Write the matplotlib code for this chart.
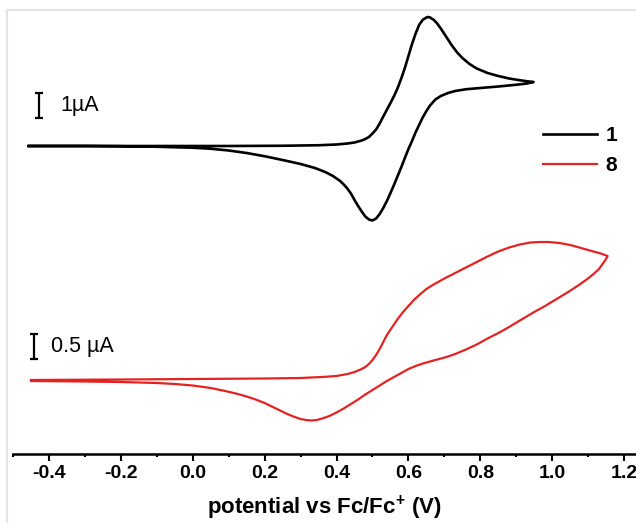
import matplotlib
matplotlib.use("Agg")
import matplotlib.pyplot as plt
import numpy as np
from matplotlib.lines import Line2D
from matplotlib.ticker import MultipleLocator

plt.rcParams['font.family'] = ['Liberation Sans', 'DejaVu Sans']
plt.rcParams['mathtext.fontset'] = 'custom'
plt.rcParams['mathtext.rm'] = 'Liberation Sans'
plt.rcParams['mathtext.bf'] = 'Liberation Sans:bold'

# compound 1 : forward (oxidation) and reverse scan, potential in V, current in uA
v1_fwd = [-0.456, -0.3, -0.1, 0.1, 0.25, 0.35, 0.40, 0.43, 0.45, 0.47, 0.48, 0.49, 0.50, 0.51,
          0.52, 0.53, 0.54, 0.55, 0.56, 0.57, 0.58, 0.59, 0.60, 0.61, 0.62, 0.63, 0.64, 0.65,
          0.655, 0.66, 0.67, 0.68, 0.69, 0.70, 0.71, 0.72, 0.735, 0.75, 0.77, 0.79, 0.82, 0.85,
          0.88, 0.91, 0.93, 0.948]
i1_fwd = [0, 0, 0, 0, 0.01, 0.03, 0.06, 0.1, 0.14, 0.22, 0.28, 0.36, 0.5, 0.66,
          0.9, 1.18, 1.45, 1.72, 2.0, 2.32, 2.7, 3.12, 3.6, 4.08, 4.5, 4.85, 5.05, 5.14,
          5.16, 5.14, 5.05, 4.9, 4.7, 4.48, 4.26, 4.04, 3.75, 3.52, 3.28, 3.1, 2.92, 2.8,
          2.7, 2.63, 2.59, 2.56]
v1_rev = [0.948, 0.93, 0.90, 0.85, 0.80, 0.76, 0.73, 0.71, 0.69, 0.675, 0.66, 0.65, 0.64, 0.63,
          0.62, 0.61, 0.60, 0.59, 0.58, 0.57, 0.56, 0.55, 0.54, 0.53, 0.52, 0.51, 0.50, 0.49,
          0.48, 0.47, 0.46, 0.45, 0.44, 0.43, 0.42, 0.41, 0.39, 0.37, 0.34, 0.30, 0.25, 0.20,
          0.15, 0.10, 0.05, 0.0, -0.1, -0.2, -0.3, -0.456]
i1_rev = [2.56, 2.5, 2.45, 2.38, 2.32, 2.27, 2.2, 2.12, 2.0, 1.86, 1.62, 1.4, 1.15, 0.85,
          0.55, 0.2, -0.12, -0.48, -0.85, -1.2, -1.55, -1.88, -2.2, -2.48, -2.72, -2.9, -2.98, -2.94,
          -2.82, -2.62, -2.4, -2.16, -1.9, -1.7, -1.54, -1.4, -1.2, -1.05, -0.88, -0.72, -0.56, -0.41,
          -0.28, -0.18, -0.11, -0.07, -0.03, -0.01, 0, 0]

# compound 8
v8_fwd = [-0.45, -0.2, 0.0, 0.2, 0.3, 0.36, 0.40, 0.43, 0.45, 0.47, 0.48, 0.49, 0.50, 0.51,
          0.52, 0.53, 0.54, 0.555, 0.57, 0.585, 0.60, 0.615, 0.63, 0.65, 0.67, 0.70, 0.73, 0.76,
          0.79, 0.82, 0.85, 0.88, 0.91, 0.94, 0.965, 0.99, 1.02, 1.05, 1.08, 1.11, 1.135, 1.154]
i8_fwd = [0, 0.01, 0.02, 0.03, 0.04, 0.06, 0.08, 0.12, 0.16, 0.22, 0.26, 0.32, 0.4, 0.5,
          0.62, 0.76, 0.9, 1.06, 1.22, 1.36, 1.48, 1.6, 1.7, 1.82, 1.91, 2.03, 2.14, 2.25,
          2.36, 2.47, 2.57, 2.65, 2.71, 2.75, 2.76, 2.76, 2.74, 2.7, 2.64, 2.58, 2.53, 2.48]
v8_rev = [1.154, 1.148, 1.14, 1.13, 1.115, 1.096, 1.07, 1.04, 1.01, 0.98, 0.945, 0.91, 0.88,
          0.853, 0.82, 0.79, 0.76, 0.73, 0.706, 0.67, 0.64, 0.62, 0.60, 0.58, 0.56, 0.54, 0.52,
          0.50, 0.48, 0.46, 0.44, 0.42, 0.40, 0.38, 0.36, 0.345, 0.33, 0.315, 0.30, 0.28, 0.26,
          0.24, 0.22, 0.20, 0.175, 0.15, 0.12, 0.09, 0.05, 0.0, -0.05, -0.1, -0.2, -0.3, -0.45]
i8_rev = [2.48, 2.4, 2.32, 2.22, 2.12, 2.01, 1.88, 1.74, 1.61, 1.48, 1.34, 1.19, 1.06,
          0.95, 0.83, 0.71, 0.61, 0.52, 0.46, 0.39, 0.33, 0.28, 0.22, 0.14, 0.06, -0.02, -0.11,
          -0.2, -0.29, -0.39, -0.48, -0.57, -0.65, -0.72, -0.77, -0.8, -0.81, -0.8, -0.78, -0.73, -0.67,
          -0.6, -0.53, -0.46, -0.39, -0.33, -0.27, -0.22, -0.16, -0.11, -0.08, -0.06, -0.04, -0.03, -0.02]

labels = ['1', '8']
colors = ['black', '#e52222']
offset1, scale1 = 12.32, 1.0   # 1 uA scale bar
offset8, scale8 = 2.96, 2.0    # 0.5 uA scale bar

fig = plt.figure(figsize=(6.36, 5.23), dpi=100)
ax = fig.add_axes([13 / 636, (523 - 454) / 523, 1 - 13 / 636, (454 - 10) / 523])

v1 = np.array(v1_fwd + v1_rev[1:])
i1 = np.array(i1_fwd + i1_rev[1:])
v8 = np.array(v8_fwd + v8_rev[1:])
i8 = np.array(i8_fwd + i8_rev[1:])
ax.plot(v1, offset1 + scale1 * i1, color=colors[0], lw=1.9, label=labels[0], solid_joinstyle='round')
ax.plot(v8, offset8 + scale8 * i8, color=colors[1], lw=1.6, label=labels[1], solid_joinstyle='round')

# scale bars
ax.errorbar([-0.428], [offset1 + 1.62], yerr=[[0.5], [0.5]], fmt='none', ecolor='black',
            elinewidth=1.6, capsize=3, capthick=1.6)
ax.text(-0.367, offset1 + 1.62, '1µA', fontsize=15.5, va='center', ha='left')
ax.errorbar([-0.442], [offset8 + 1.34], yerr=[[0.5], [0.5]], fmt='none', ecolor='black',
            elinewidth=1.6, capsize=3, capthick=1.6)
ax.text(-0.395, offset8 + 1.34, '0.5 µA', fontsize=15.5, va='center', ha='left')

ax.set_xlim(-0.5, 1.233)
ax.set_ylim(0, 17.76)
for s in ['left', 'right', 'top']:
    ax.spines[s].set_visible(False)
ax.spines['bottom'].set_linewidth(1.8)
ax.set_yticks([])
ax.xaxis.set_minor_locator(MultipleLocator(0.1))
ax.tick_params(axis='x', which='major', direction='out', length=5, width=1.5, pad=3, labelsize=14)
ax.tick_params(axis='x', which='minor', direction='out', length=2.5, width=1.5)
ax.set_xticks(np.arange(-0.4, 1.21, 0.2))
ax.set_xticklabels(['%.1f' % t for t in np.arange(-0.4, 1.21, 0.2)], fontweight='bold')
ax.set_xlabel(r'potential vs Fc/Fc$^{\mathbf{+}}$ (V)', fontsize=16, fontweight='bold', labelpad=8)

ax.legend(frameon=False, loc='upper left', bbox_to_anchor=(543 / 636, 1 - 126 / 523),
          bbox_transform=fig.transFigure, borderpad=0, borderaxespad=0, handlelength=2.6,
          handletextpad=0.4, labelspacing=0.54, prop={'size': 15, 'weight': 'bold'})

# light frame of the screenshot
fig.add_artist(Line2D([7 / 636, 7 / 636], [0, 1 - 10 / 523], transform=fig.transFigure,
                      color='#e4e4e4', lw=1.5))
fig.add_artist(Line2D([7 / 636, 1], [1 - 10 / 523, 1 - 10 / 523], transform=fig.transFigure,
                      color='#e4e4e4', lw=1.5))

plt.savefig('out.png', dpi=100)
